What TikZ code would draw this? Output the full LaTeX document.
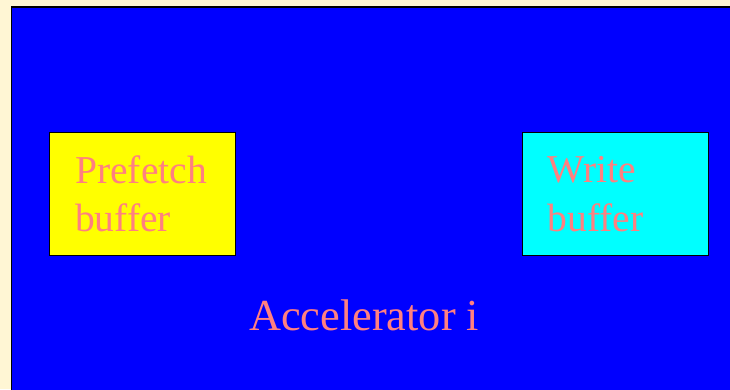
\documentclass[tikz,border=0pt]{standalone}
\usepackage{fontspec}
\setmainfont{Liberation Serif}
\definecolor{pagecream}{RGB}{255,246,212}
\definecolor{salmontext}{RGB}{255,128,128}
\definecolor{areablue}{RGB}{0,0,255}
\definecolor{prefetchyellow}{RGB}{255,255,0}
\definecolor{writecyan}{RGB}{0,255,255}
\begin{document}
\begin{tikzpicture}[x=1pt,y=-1pt,
  bufbox/.style={draw=black, line width=1pt},
  label/.style={anchor=base west, inner sep=0pt, text=salmontext},
  buftext/.style={label, font=\fontsize{39.5}{48}\selectfont},
  bigtext/.style={label, font=\fontsize{44.3}{52}\selectfont}]
  % page and accelerator area
  \fill[pagecream] (0,0) rectangle (730,389);
  \useasboundingbox (0,0) rectangle (730,389);
  \fill[areablue] (11.5,7) rectangle (732,391);
  \draw[black, line width=1.2pt] (11.5,391) -- (11.5,7) -- (732,7);
  % buffers
  \draw[bufbox, fill=prefetchyellow] (49.5,132.5) rectangle (235.5,255.5);
  \draw[bufbox, fill=writecyan] (522.5,132.5) rectangle (708.5,255.5);
  \node[buftext] (pf1) at (75,183) {Prefetch};
  \node[buftext] (pf2) at (75,231) {buffer};
  \node[buftext] (wb1) at (547.5,182.5) {Write};
  \node[buftext] (wb2) at (547.5,231) {buffer};
  \node[bigtext] (acc) at (249,330.5) {Accelerator i};
\end{tikzpicture}
\end{document}
